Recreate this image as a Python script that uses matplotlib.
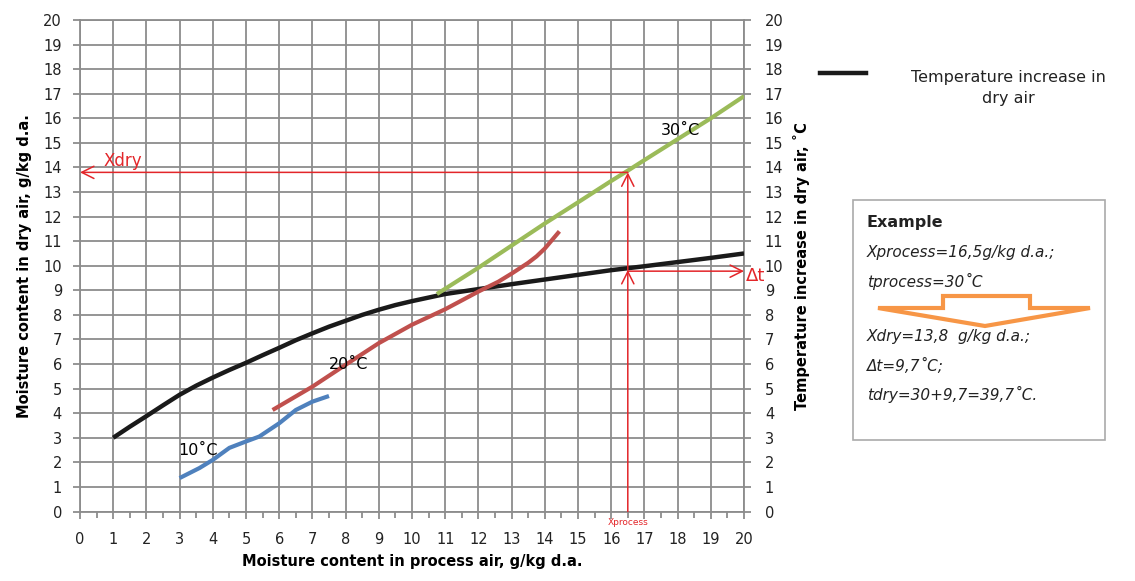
import numpy as np
import matplotlib.pyplot as plt
from matplotlib.patches import Rectangle, Polygon

# Temperature increase in dry air (black)
x_dt = [1, 1.5, 2, 2.5, 3, 3.5, 4, 4.5, 5, 5.5, 6, 6.5, 7, 7.5, 8, 8.5, 9, 9.5, 10,
        11, 12, 13, 14, 15, 16, 17, 18, 19, 20]
y_dt = [3.0, 3.45, 3.88, 4.32, 4.75, 5.12, 5.45, 5.76, 6.05, 6.36, 6.66, 6.97, 7.25, 7.52, 7.76, 8.0, 8.21, 8.4, 8.56,
        8.85, 9.05, 9.25, 9.44, 9.63, 9.82, 9.98, 10.15, 10.32, 10.5]

# Moisture content in dry air at 10, 20, 30 degC
x_10 = [3.0, 3.6, 4.0, 4.5, 5.0, 5.4, 6.0, 6.5, 7.0, 7.5]
y_10 = [1.36, 1.77, 2.1, 2.59, 2.85, 3.05, 3.59, 4.13, 4.47, 4.7]
x_20 = [5.8, 7.0, 8.0, 9.0, 10.0, 11.0, 12.0, 12.6, 13.0, 13.5, 13.75, 14.0, 14.44]
y_20 = [4.13, 5.08, 5.97, 6.85, 7.6, 8.23, 8.95, 9.35, 9.68, 10.12, 10.38, 10.7, 11.4]
x_30 = [10.75, 12, 13, 14, 15, 16, 16.5, 17, 18, 19, 20]
y_30 = [8.85, 9.92, 10.82, 11.72, 12.58, 13.45, 13.87, 14.3, 15.15, 16.0, 16.9]

# worked example
x_process = 16.5
x_dry = 13.8
dt_read = 9.83

example_lines = ["Xprocess=16,5g/kg d.a.;", "tprocess=30˚C",
                 "Xdry=13,8  g/kg d.a.;", "Δt=9,7˚C;", "tdry=30+9,7=39,7˚C."]

W, H = 1135, 581
fig = plt.figure(figsize=(W / 100, H / 100), dpi=100)
ax = fig.add_axes([80 / W, 1 - 511.5 / H, (744 - 80) / W, (511.5 - 20) / H])

grid_c = '#8c8c8c'
red = '#e3262a'

ax.plot(x_dt, y_dt, color='#1a1a1a', lw=3.2, solid_capstyle='butt', zorder=4)
ax.plot(x_10, y_10, color='#4f81bd', lw=3, solid_capstyle='butt', zorder=4)
ax.plot(x_20, y_20, color='#c0504d', lw=3, solid_capstyle='butt', zorder=4)
ax.plot(x_30, y_30, color='#9bbb59', lw=3, solid_capstyle='butt', zorder=4)

ax.text(3.55, 2.5, "10˚C", fontsize=11.5, ha='center', va='center', zorder=5)
ax.text(8.1, 6.0, "20˚C", fontsize=11.5, ha='center', va='center', zorder=5)
ax.text(18.1, 15.5, "30˚C", fontsize=11.5, ha='center', va='center', zorder=5)

arr = dict(arrowstyle='->', color=red, lw=1.1, mutation_scale=22, shrinkA=0, shrinkB=0)
ax.annotate('', xy=(0, x_dry), xytext=(x_process, x_dry), arrowprops=arr, zorder=6)
ax.annotate('', xy=(x_process, dt_read), xytext=(x_process, 0), arrowprops=arr, zorder=6)
ax.annotate('', xy=(x_process, x_dry), xytext=(x_process, dt_read), arrowprops=arr, zorder=6)
ax.annotate('', xy=(20, dt_read - 0.05), xytext=(x_process, dt_read - 0.05), arrowprops=arr, zorder=6)
ax.text(0.7, 14.25, "Xdry", color=red, fontsize=12, va='center', zorder=6)
ax.text(20.05, 9.6, "Δt", color=red, fontsize=13, va='center', zorder=6, clip_on=False)
ax.text(x_process, -0.25, "Xprocess", color=red, fontsize=6.5, ha='center', va='top', clip_on=False)

ax.set_xlim(0, 20)
ax.set_ylim(0, 20)
ax.set_xticks(range(0, 21))
ax.set_xticks(np.arange(0.5, 20, 1), minor=True)
ax.set_yticks(range(0, 21))
ax.grid(True, color=grid_c, lw=1.3)
for s in ax.spines.values():
    s.set_color(grid_c)
    s.set_linewidth(1.3)
ax.tick_params(axis='both', which='major', length=5, width=1.3, color=grid_c, labelsize=10.5, labelcolor='#222222')
ax.tick_params(axis='x', which='major', pad=10)
ax.tick_params(axis='x', which='minor', length=4, width=1.3, color=grid_c)
ax.tick_params(axis='y', pad=8)

ax2 = ax.twinx()
ax2.set_ylim(0, 20)
ax2.set_yticks(range(0, 21))
for s in ax2.spines.values():
    s.set_visible(False)
ax2.tick_params(axis='y', length=5, width=1.3, color=grid_c, labelsize=10.5, labelcolor='#222222', pad=10)

ax.set_xlabel("Moisture content in process air, g/kg d.a.", fontsize=10.5, fontweight='bold', labelpad=5)
ax.set_ylabel("Moisture content in dry air, g/kg d.a.", fontsize=10.5, fontweight='bold', labelpad=8)
ax2.set_ylabel("Temperature increase in dry air, ˚C", fontsize=10.5, fontweight='bold', labelpad=7)

# legend
fig.add_artist(plt.Line2D([820 / W, 866 / W], [1 - 73 / H, 1 - 73 / H], color='#1a1a1a', lw=3.2,
                          transform=fig.transFigure))
fig.text(1008 / W, 1 - 88 / H, "Temperature increase in\ndry air", fontsize=11.5, ha='center', va='center',
         linespacing=1.5, color='#222222')

# example box
fig.add_artist(Rectangle((853 / W, 1 - 440 / H), (1105 - 853) / W, (440 - 200) / H,
                         transform=fig.transFigure, fill=False, edgecolor='#aaaaaa', lw=1.2))
fig.text(867 / W, 1 - 222 / H, "Example", fontsize=11.5, fontweight='bold', va='center', color='#222222')
for txt, py in zip(example_lines, [253, 281, 336, 366, 394]):
    fig.text(867 / W, 1 - py / H, txt, fontsize=11, style='italic', va='center', color='#222222')

arrow_px = [(943, 296), (1030, 296), (1030, 308), (1090, 308), (985, 326), (878, 308), (943, 308)]
fig.add_artist(Polygon([(px / W, 1 - py / H) for px, py in arrow_px], closed=True,
                       transform=fig.transFigure, facecolor='white', edgecolor='#f79646', lw=3))

fig.savefig('out.png', dpi=100)
